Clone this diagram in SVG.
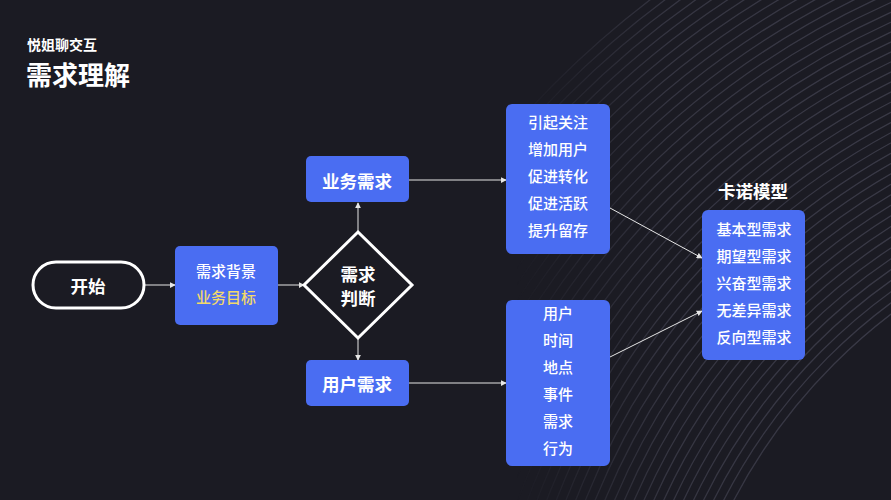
<svg xmlns="http://www.w3.org/2000/svg" width="891" height="500" viewBox="0 0 891 500">
<defs>
<style>
.t{font-family:"Noto Sans CJK SC","Noto Sans",sans-serif;fill:#fff;text-anchor:middle;dominant-baseline:central}
.b{font-weight:bold;font-size:17.5px}
.n{font-size:15px;font-weight:500}
.box{fill:#4a6df2}
.ol{fill:none;stroke:#fff;stroke-width:3}
.c{fill:none;stroke:#e6e6e6;stroke-width:1}
.arc{fill:none;stroke:#3a3a47;stroke-width:1.3}
</style>
<marker id="ah" viewBox="0 0 8 8" refX="7" refY="4" markerWidth="6" markerHeight="6" orient="auto" markerUnits="userSpaceOnUse">
<path d="M0,0 L8,4 L0,8 z" fill="#e6e6e6"/>
</marker>
<linearGradient id="fade" x1="0" y1="0" x2="1" y2="0">
<stop offset="0.58" stop-color="#fff" stop-opacity="0"/>
<stop offset="0.75" stop-color="#fff" stop-opacity="0.85"/>
<stop offset="1" stop-color="#fff" stop-opacity="1"/>
</linearGradient>
<mask id="m"><rect x="0" y="0" width="891" height="500" fill="url(#fade)"/></mask>
</defs>
<rect width="891" height="500" fill="#1b1b23"/>
<g id="bg-arcs" mask="url(#m)">
<g class="arc">
<circle cx="1230" cy="760" r="560"/><circle cx="1230" cy="760" r="569"/><circle cx="1230" cy="760" r="578"/><circle cx="1230" cy="760" r="587"/><circle cx="1230" cy="760" r="596"/><circle cx="1230" cy="760" r="605"/><circle cx="1230" cy="760" r="614"/><circle cx="1230" cy="760" r="623"/><circle cx="1230" cy="760" r="632"/><circle cx="1230" cy="760" r="641"/><circle cx="1230" cy="760" r="650"/><circle cx="1230" cy="760" r="659"/><circle cx="1230" cy="760" r="668"/><circle cx="1230" cy="760" r="677"/><circle cx="1230" cy="760" r="686"/><circle cx="1230" cy="760" r="695"/><circle cx="1230" cy="760" r="704"/><circle cx="1230" cy="760" r="713"/><circle cx="1230" cy="760" r="722"/><circle cx="1230" cy="760" r="731"/><circle cx="1230" cy="760" r="740"/><circle cx="1230" cy="760" r="749"/><circle cx="1230" cy="760" r="758"/><circle cx="1230" cy="760" r="767"/><circle cx="1230" cy="760" r="776"/><circle cx="1230" cy="760" r="785"/><circle cx="1230" cy="760" r="794"/><circle cx="1230" cy="760" r="803"/><circle cx="1230" cy="760" r="812"/><circle cx="1230" cy="760" r="821"/><circle cx="1230" cy="760" r="830"/><circle cx="1230" cy="760" r="839"/><circle cx="1230" cy="760" r="848"/><circle cx="1230" cy="760" r="857"/><circle cx="1230" cy="760" r="866"/><circle cx="1230" cy="760" r="875"/><circle cx="1230" cy="760" r="884"/><circle cx="1230" cy="760" r="893"/><circle cx="1230" cy="760" r="902"/><circle cx="1230" cy="760" r="911"/><circle cx="1230" cy="760" r="920"/><circle cx="1230" cy="760" r="929"/><circle cx="1230" cy="760" r="938"/><circle cx="1230" cy="760" r="947"/><circle cx="1230" cy="760" r="956"/>
</g>
</g>
<g id="title">
<text x="27" y="44" font-family="Noto Sans CJK SC,sans-serif" font-size="14" font-weight="bold" fill="#fff" dominant-baseline="central">悦姐聊交互</text>
<text x="26" y="73" font-family="Noto Sans CJK SC,sans-serif" font-size="26" font-weight="bold" fill="#fff" dominant-baseline="central">需求理解</text>
</g>
<g id="connectors">
<line class="c" x1="145" y1="285" x2="175" y2="285" marker-end="url(#ah)"/>
<line class="c" x1="278" y1="285" x2="304" y2="285" marker-end="url(#ah)"/>
<line class="c" x1="358" y1="232" x2="358" y2="203" marker-end="url(#ah)"/>
<line class="c" x1="358" y1="338" x2="358" y2="360" marker-end="url(#ah)"/>
<line class="c" x1="409" y1="180" x2="506" y2="180" marker-end="url(#ah)"/>
<line class="c" x1="409" y1="383" x2="506" y2="383" marker-end="url(#ah)"/>
<line class="c" x1="610" y1="208" x2="702" y2="258" marker-end="url(#ah)"/>
<line class="c" x1="610" y1="357" x2="702" y2="311" marker-end="url(#ah)"/>
</g>
<g id="start">
<rect class="ol" x="33" y="262" width="111" height="46" rx="23"/>
<text class="t b" x="88" y="285">开始</text>
</g>
<g id="background-goal">
<rect class="box" x="175" y="246" width="103" height="79" rx="5"/>
<text class="t n" x="226" y="270">需求背景</text>
<text class="t n" x="226" y="296" style="fill:#f2d96b">业务目标</text>
</g>
<g id="decision">
<polygon class="ol" points="358,232 412,285 358,338 304,285"/>
<text class="t b" x="358" y="273">需求</text>
<text class="t b" x="358" y="297">判断</text>
</g>
<g id="business">
<rect class="box" x="306" y="156" width="103" height="46" rx="5"/>
<text class="t b" x="357" y="180">业务需求</text>
</g>
<g id="user">
<rect class="box" x="306" y="360" width="103" height="46" rx="5"/>
<text class="t b" x="357" y="383">用户需求</text>
</g>
<g id="business-goals">
<rect class="box" x="506" y="104" width="104" height="150" rx="6"/>
<text class="t n" x="558" y="121">引起关注</text>
<text class="t n" x="558" y="148">增加用户</text>
<text class="t n" x="558" y="175">促进转化</text>
<text class="t n" x="558" y="202">促进活跃</text>
<text class="t n" x="558" y="229">提升留存</text>
</g>
<g id="user-elements">
<rect class="box" x="506" y="300" width="104" height="166" rx="6"/>
<text class="t n" x="558" y="312">用户</text>
<text class="t n" x="558" y="339">时间</text>
<text class="t n" x="558" y="366">地点</text>
<text class="t n" x="558" y="393">事件</text>
<text class="t n" x="558" y="420">需求</text>
<text class="t n" x="558" y="447">行为</text>
</g>
<g id="kano">
<text class="t b" x="753" y="190">卡诺模型</text>
<rect class="box" x="702" y="210" width="103" height="150" rx="6"/>
<text class="t n" x="754" y="228">基本型需求</text>
<text class="t n" x="754" y="255">期望型需求</text>
<text class="t n" x="754" y="282">兴奋型需求</text>
<text class="t n" x="754" y="309">无差异需求</text>
<text class="t n" x="754" y="336">反向型需求</text>
</g>
</svg>
